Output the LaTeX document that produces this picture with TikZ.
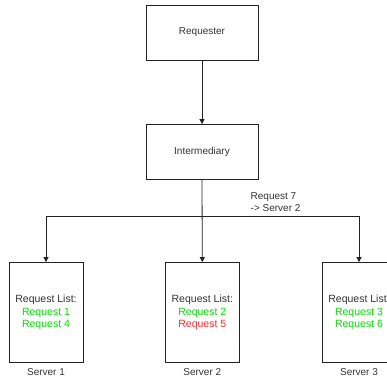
\documentclass[tikz,border=0pt]{standalone}
\usepackage{fontspec}
\setmainfont{Liberation Sans}
\usetikzlibrary{arrows.meta}
\definecolor{txt}{HTML}{333333}
\definecolor{ln}{HTML}{222222}
\definecolor{okgreen}{HTML}{00E000}
\definecolor{badred}{HTML}{FF2A2A}
\begin{document}
\begin{tikzpicture}[x=1pt,y=-1pt,
  box/.style={draw=ln,line width=0.8pt,fill=white,minimum width=112pt,minimum height=55pt,inner sep=0pt,text=txt,font=\fontsize{10}{12}\selectfont},
  srv/.style={draw=ln,line width=0.8pt,fill=white,minimum width=74pt,minimum height=100pt,inner sep=0pt,align=center,text=txt,font=\fontsize{10.5}{12.5}\selectfont},
  lbl/.style={text=txt,font=\fontsize{10}{12}\selectfont,inner sep=0pt},
  conn/.style={draw=ln,line width=0.8pt},
  arr/.style={conn,-{Triangle[length=5pt,width=5pt]}}]
\useasboundingbox (0,0) rectangle (387,381);
\clip (0,0) rectangle (387,381);
\node[box] (req) at (202,32.5) {Requester};
\node[box] (int) at (202,152) {Intermediary};
\node[srv] (s1) at (46,312.5) {Request List:\\\textcolor{okgreen}{Request 1}\\\textcolor{okgreen}{Request 4}};
\node[srv] (s2) at (202.3,312.5) {Request List:\\\textcolor{okgreen}{Request 2}\\\textcolor{badred}{Request 5}};
\node[srv] (s3) at (359,312.5) {Request List:\\\textcolor{okgreen}{Request 3}\\\textcolor{okgreen}{Request 6}};
\node[lbl] (l1) at (46,372) {Server 1};
\node[lbl] (l2) at (202.3,372) {Server 2};
\node[lbl] (l3) at (359,372) {Server 3};
\coordinate (bl) at (46,216);
\coordinate (br) at (359,216);
\node[lbl,align=left,anchor=west] (note) at (250.5,202.5) {Request 7\\-> Server 2};
\draw[arr] (req) -- (int);
\draw[arr] (int.south) -- (s2.north);
\draw[conn] (bl) -- (br);
\draw[arr] (bl) -- (s1.north);
\draw[arr] (br) -- (s3.north);
\end{tikzpicture}
\end{document}
